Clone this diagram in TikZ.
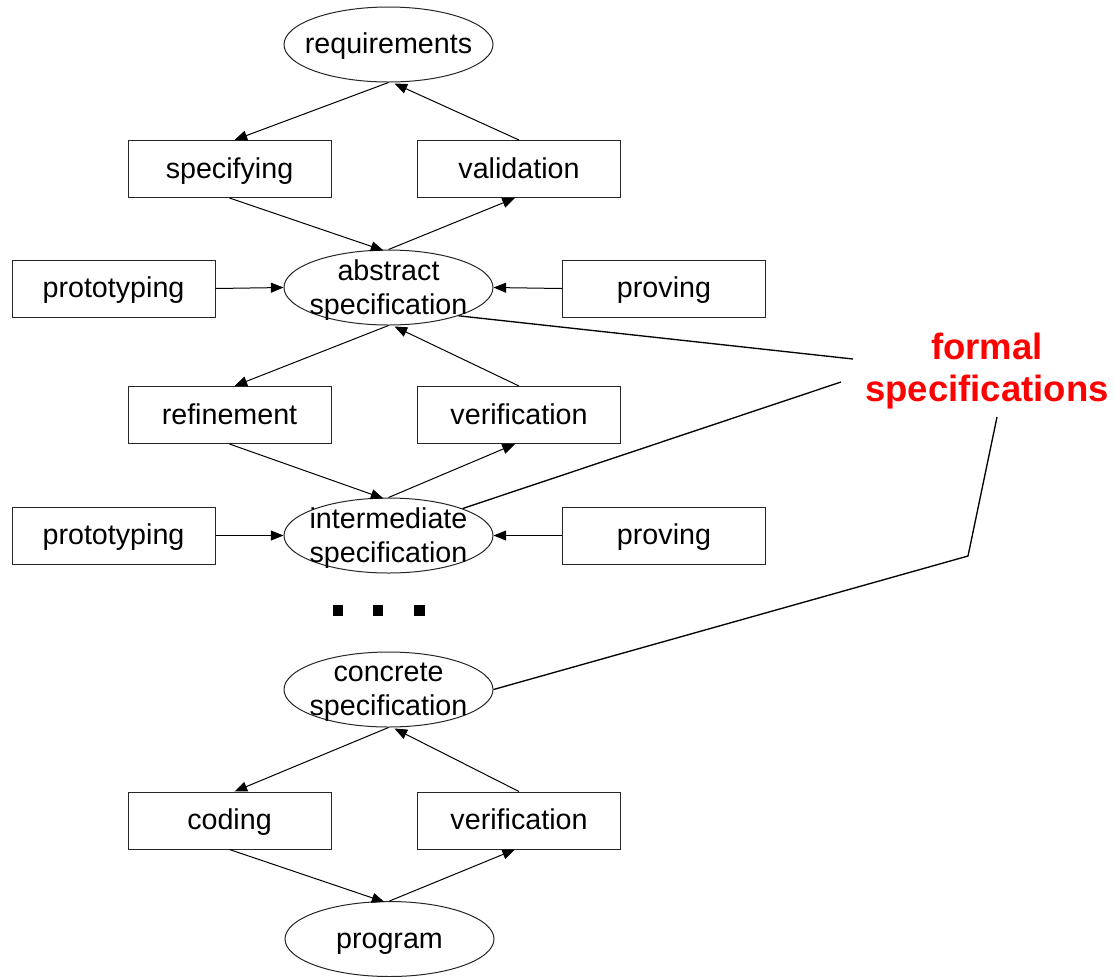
\documentclass[tikz,border=0pt]{standalone}
\usepackage{fontspec}
\setmainfont{Liberation Sans}
\usetikzlibrary{shapes.geometric,arrows.meta,calc}
\tikzset{
 boxn/.style={draw=black!85, line width=0.75pt, minimum width=152.25pt, minimum height=42.75pt, inner sep=0pt, text height=17pt, text depth=3.5pt},
 elln/.style={ellipse, draw=black!85, line width=0.75pt, minimum width=156.75pt, minimum height=56.25pt, inner sep=0pt},
 ellab/.style={inner sep=0pt, text height=17pt, text depth=3.5pt},
 ellabtwo/.style={align=center, inner sep=0pt, yshift=-2pt, font=\fontsize{21.5pt}{25.5pt}\selectfont},
 conn/.style={line width=0.75pt, -{Triangle[length=9.5pt,width=7.5pt]}},
 fline/.style={line width=1pt},
 sqdot/.style={fill=black, minimum size=8pt, inner sep=0pt},
 fslab/.style={text=red, font=\fontsize{27.4pt}{31.5pt}\selectfont\bfseries, align=center, inner sep=0pt},
}
\begin{document}
\begin{tikzpicture}[x=0.75pt,y=-0.75pt, font=\fontsize{21.5pt}{24.75pt}\selectfont]
\useasboundingbox (0,0) rectangle (1114,976);

% ellipses
\node[elln, label={[ellab]center:requirements}] (req) at (388.5,44.5) {};
\node[elln, label={[ellabtwo]center:{abstract\\specification}}] (abs) at (388.5,287.5) {};
\node[elln, label={[ellabtwo]center:{intermediate\\specification}}] (int) at (388.5,535.5) {};
\node[elln, label={[ellabtwo]center:{concrete\\specification}}] (conc) at (388.5,689.5) {};
\node[elln, label={[ellab]center:program}] (prog) at (389.5,939) {};

% boxes
\node[boxn] (spec) at (229.5,169) {specifying};
\node[boxn] (val) at (519,169) {validation};
\node[boxn] (proto1) at (113.5,288.5) {prototyping};
\node[boxn] (prov1) at (664,288.5) {proving};
\node[boxn] (ref) at (229.5,415) {refinement};
\node[boxn] (ver1) at (519,415) {verification};
\node[boxn] (proto2) at (113.5,535.5) {prototyping};
\node[boxn] (prov2) at (664,535.5) {proving};
\node[boxn] (cod) at (229.5,820.5) {coding};
\node[boxn] (ver2) at (519,820.5) {verification};

% dots
\node[sqdot] (d1) at (338,610.5) {};
\node[sqdot] (d2) at (378,610.5) {};
\node[sqdot] (d3) at (419.5,610.5) {};

% formal specifications
\node[fslab] (formal) at (987,371.5) {formal\\specifications};
\coordinate (f1) at (853,359);
\coordinate (f2) at (841,382);
\coordinate (f3) at (968,556);
\coordinate (f4) at (997,417);

% connectors
\draw[conn] (req.south) -- ($(spec.north)+(5,0)$);
\draw[conn] (val.north) -- ($(req.south)+(6,1)$);
\draw[conn] (spec.south) -- ($(abs.north)+(-5,1)$);
\draw[conn] (abs.north) -- ($(val.south)+(-4,0)$);
\draw[conn] (proto1.east) -- (abs.west);
\draw[conn] (prov1.west) -- (abs.east);

\draw[conn] (abs.south) -- ($(ref.north)+(5,0)$);
\draw[conn] (ver1.north) -- ($(abs.south)+(6,1)$);
\draw[conn] (ref.south) -- ($(int.north)+(-5,1)$);
\draw[conn] (int.north) -- ($(ver1.south)+(-4,0)$);
\draw[conn] (proto2.east) -- (int.west);
\draw[conn] (prov2.west) -- (int.east);

\draw[conn] (conc.south) -- ($(cod.north)+(5,0)$);
\draw[conn] (ver2.north) -- ($(conc.south)+(6,1)$);
\draw[conn] (cod.south) -- ($(prog.north)+(-5,1)$);
\draw[conn] (prog.north) -- ($(ver2.south)+(-4,0)$);

\draw[fline] (abs.-22) -- (f1);
\draw[fline] (int.20) -- (f2);
\draw[fline] (conc.east) -- (f3) -- (f4);
\end{tikzpicture}
\end{document}
